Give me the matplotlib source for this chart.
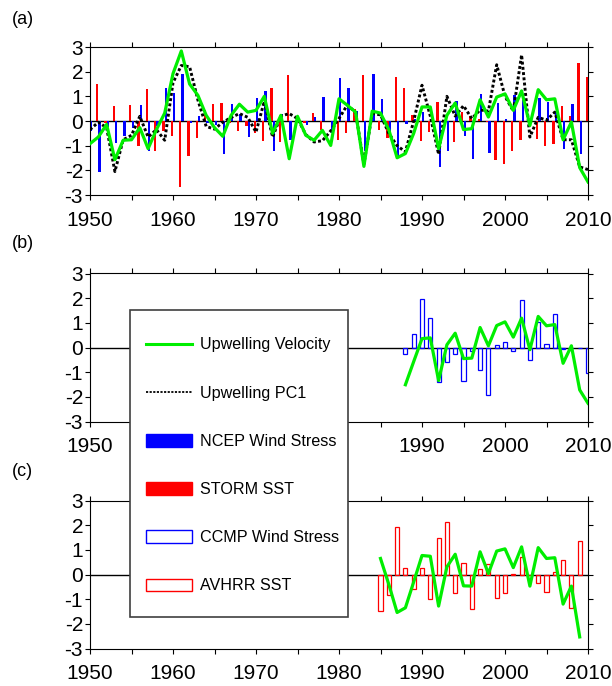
import numpy as np
import matplotlib
matplotlib.use('Agg')
import matplotlib.pyplot as plt
from matplotlib.lines import Line2D
from matplotlib.patches import Patch, Rectangle

plt.rcParams['font.family'] = ['Liberation Sans', 'DejaVu Sans']
plt.rcParams['axes.unicode_minus'] = False

# ---- data ----
years_a = np.arange(1950, 2011)
ncep = [-0.4, -2.05, -0.25, -0.9, -0.6, -0.3, 0.65, -1.2, -0.2, 1.35,
        1.12, 1.92, -0.1, 0.2, -0.1, -0.15, -1.35, 0.68, 0.3, -0.65,
        0.95, 1.2, -1.2, 0.3, -0.75, 0.0, -0.15, 0.17, 0.97, -0.5,
        1.75, 1.33, 0.4, -1.2, 1.9, 0.9, -0.45, -1.4, -0.12, 0.1,
        0.38, 0.05, -1.86, -1.2, 0.8, -0.6, -1.55, 1.1, -1.3, 0.73,
        0.08, 1.04, 0.85, 0.05, 0.95, 0.78, 0.35, -1.15, 0.68, -1.35,
        np.nan]
storm = [np.nan, 1.5, -0.1, 0.6, 0.0, 0.65, -1.0, 1.3, -1.22, -0.4,
         -0.6, -2.68, -1.43, -0.7, 0.45, 0.7, 0.73, -0.1, -0.4, -0.2,
         -0.5, -0.8, 1.35, -0.85, 1.85, -0.1, -0.1, 0.32, -0.38, 0.0,
         -0.75, -0.5, 0.5, 1.86, 0.25, -0.35, -0.7, 1.78, 1.34, 0.25,
         -0.8, -0.45, 0.77, 0.1, -0.85, 0.38, 0.2, 0.1, -0.05, -1.6,
         -1.73, -1.2, -0.78, 0.1, -0.74, -1.0, -0.95, 0.62, 0.2, 2.35,
         1.8]
pc1 = [-0.35, -0.05, -0.27, -2.05, -0.76, -0.58, 0.19, -0.65, -0.35, -0.78,
       1.55, 2.25, 2.2, 0.85, -0.22, -0.33, -0.05, 0.14, 0.3, 0.15,
       -0.45, 0.8, -0.65, 0.2, 0.3, 0.1, -0.55, -0.85, -0.8, -0.4,
       0.1, 0.65, 0.35, -1.75, 0.3, 0.25, -0.5, -1.0, -1.25, 0.0,
       1.45, 0.2, -1.35, 1.0, 0.2, 0.62, 0.1, 0.45, 0.4, 2.28,
       1.0, 0.4, 2.68, -0.65, 0.15, 0.03, 0.36, -0.76, -0.76, -1.86,
       -1.97]
upw_a = [-0.92, -0.65, -0.14, -1.57, -0.78, -0.76, -0.27, -1.12, -0.35, 0.32,
         1.92, 2.84, 1.5, 1.04, 0.23, -0.27, -0.62, 0.23, 0.68, 0.36,
         0.43, 1.0, -0.5, 0.23, -1.53, 0.19, -0.58, -0.78, -0.38, -0.99,
         0.9, 0.64, 0.36, -1.84, 0.4, 0.32, -0.35, -1.49, -1.32, -0.5,
         0.57, 0.57, -1.12, 0.23, 0.73, -0.35, -0.31, 0.86, 0.16, 0.97,
         1.1, 0.43, 1.22, -0.18, 1.27, 0.86, 0.9, -0.76, -0.04, -1.89,
         -2.47]

years_b = np.arange(1988, 2011)
ccmp = [-0.27, 0.54, 1.96, 1.18, -1.38, -0.57, -0.26, -1.35, -0.16, -0.9,
        -1.92, 0.1, 0.24, -0.14, 1.93, -0.5, 1.05, 0.16, 1.35, -0.07,
        -0.02, -0.04, -1.04]
upw_b = [-1.51, -0.57, 0.36, 0.39, -1.34, 0.11, 0.58, -0.45, -0.43, 0.81,
         0.07, 0.89, 1.04, 0.42, 1.19, -0.09, 1.26, 0.88, 0.93, -0.64,
         0.07, -1.72, -2.26]

years_c = np.arange(1985, 2010)
avhrr = [-1.47, -0.84, 1.93, 0.28, -0.57, 0.28, -1.01, 1.5, 2.11, -0.77,
         0.47, -1.38, 0.24, 0.41, -0.95, -0.77, 0.04, 0.69, 0.0, -0.34,
         -0.7, 0.11, 0.58, -1.35, 1.36]
upw_c = [0.65, -0.4, -1.54, -1.35, -0.3, 0.77, 0.74, -1.28, 0.31, 0.82,
         -0.46, -0.47, 0.92, 0.04, 0.95, 1.04, 0.28, 1.12, -0.47, 1.09,
         0.65, 0.68, -1.2, -0.47, -2.53]

GREEN = '#00ee00'

W, H = 612, 686
fig = plt.figure(figsize=(W / 100, H / 100), dpi=100)


def make_ax(top_px):
    ax = fig.add_axes([90 / W, 1 - (top_px + 148) / H, 498 / W, 148 / H])
    ax.set_xlim(1950, 2010)
    ax.set_ylim(-3, 3)
    ax.set_xticks(range(1950, 2011, 10))
    ax.set_xticks(range(1955, 2010, 10), minor=True)
    ax.set_yticks(range(-3, 4))
    ax.tick_params(which='both', direction='out', length=3.5, width=0.8,
                   top=True, right=True, labelsize=15)
    ax.tick_params(axis='x', pad=8)
    ax.tick_params(axis='y', pad=1.5)
    for s in ax.spines.values():
        s.set_linewidth(0.8)
    ax.axhline(0, color='black', lw=1.0, zorder=1)
    return ax


# (a)
ax1 = make_ax(47)
ax1.bar(years_a - 0.14, storm, width=0.28, color='#ff0000', zorder=2)
ax1.bar(years_a + 0.14, ncep, width=0.28, color='#0000ff', zorder=2)
ax1.plot(years_a, pc1, color='black', lw=2.1, linestyle=(0, (1, 0.8)), zorder=3)
ax1.plot(years_a, upw_a, color=GREEN, lw=2.3, zorder=4)

# (b)
ax2 = make_ax(273.5)
ax2.bar(years_b, ccmp, width=0.5, facecolor='none', edgecolor='#0000ff',
        lw=0.9, zorder=2)
ax2.plot(years_b, upw_b, color=GREEN, lw=2.3, zorder=4)
ax2.set_xticklabels(['1950', '', '', '', '1990', '2000', '2010'])

# (c)
ax3 = make_ax(500.5)
ax3.bar(years_c, avhrr, width=0.5, facecolor='none', edgecolor='#ff0000',
        lw=0.9, zorder=2)
ax3.plot(years_c, upw_c, color=GREEN, lw=2.3, zorder=4)

for lab, y in [('(a)', 20), ('(b)', 244), ('(c)', 471)]:
    fig.text(12 / W, 1 - y / H, lab, fontsize=13, ha='left', va='center')

# legend box drawn over panels b and c
box = Rectangle((130 / W, 1 - 617.3 / H), (347.7 - 130) / W, (617.3 - 310) / H,
                transform=fig.transFigure, facecolor='white',
                edgecolor='#404040', lw=1.2, zorder=3)
fig.add_artist(box)

handles = [
    Line2D([], [], color=GREEN, lw=2.2),
    Line2D([], [], color='black', lw=1.3, linestyle=(0, (1.2, 0.8))),
    Patch(facecolor='#0000ff', edgecolor='#0000ff'),
    Patch(facecolor='#ff0000', edgecolor='#ff0000'),
    Patch(facecolor='white', edgecolor='#0000ff', lw=1.0),
    Patch(facecolor='white', edgecolor='#ff0000', lw=1.0),
]
labels = ['Upwelling Velocity', 'Upwelling PC1', 'NCEP Wind Stress',
          'STORM SST', 'CCMP Wind Stress', 'AVHRR SST']
leg = fig.legend(handles, labels, loc='upper left',
                 bbox_to_anchor=(146 / W, 1 - 337.5 / H),
                 bbox_transform=fig.transFigure, frameon=False,
                 borderpad=0, borderaxespad=0, fontsize=11.6,
                 handlelength=2.84, handleheight=0.83, handletextpad=0.52,
                 labelspacing=2.06)
leg.set_zorder(5)

fig.savefig('out.png', dpi=100)
